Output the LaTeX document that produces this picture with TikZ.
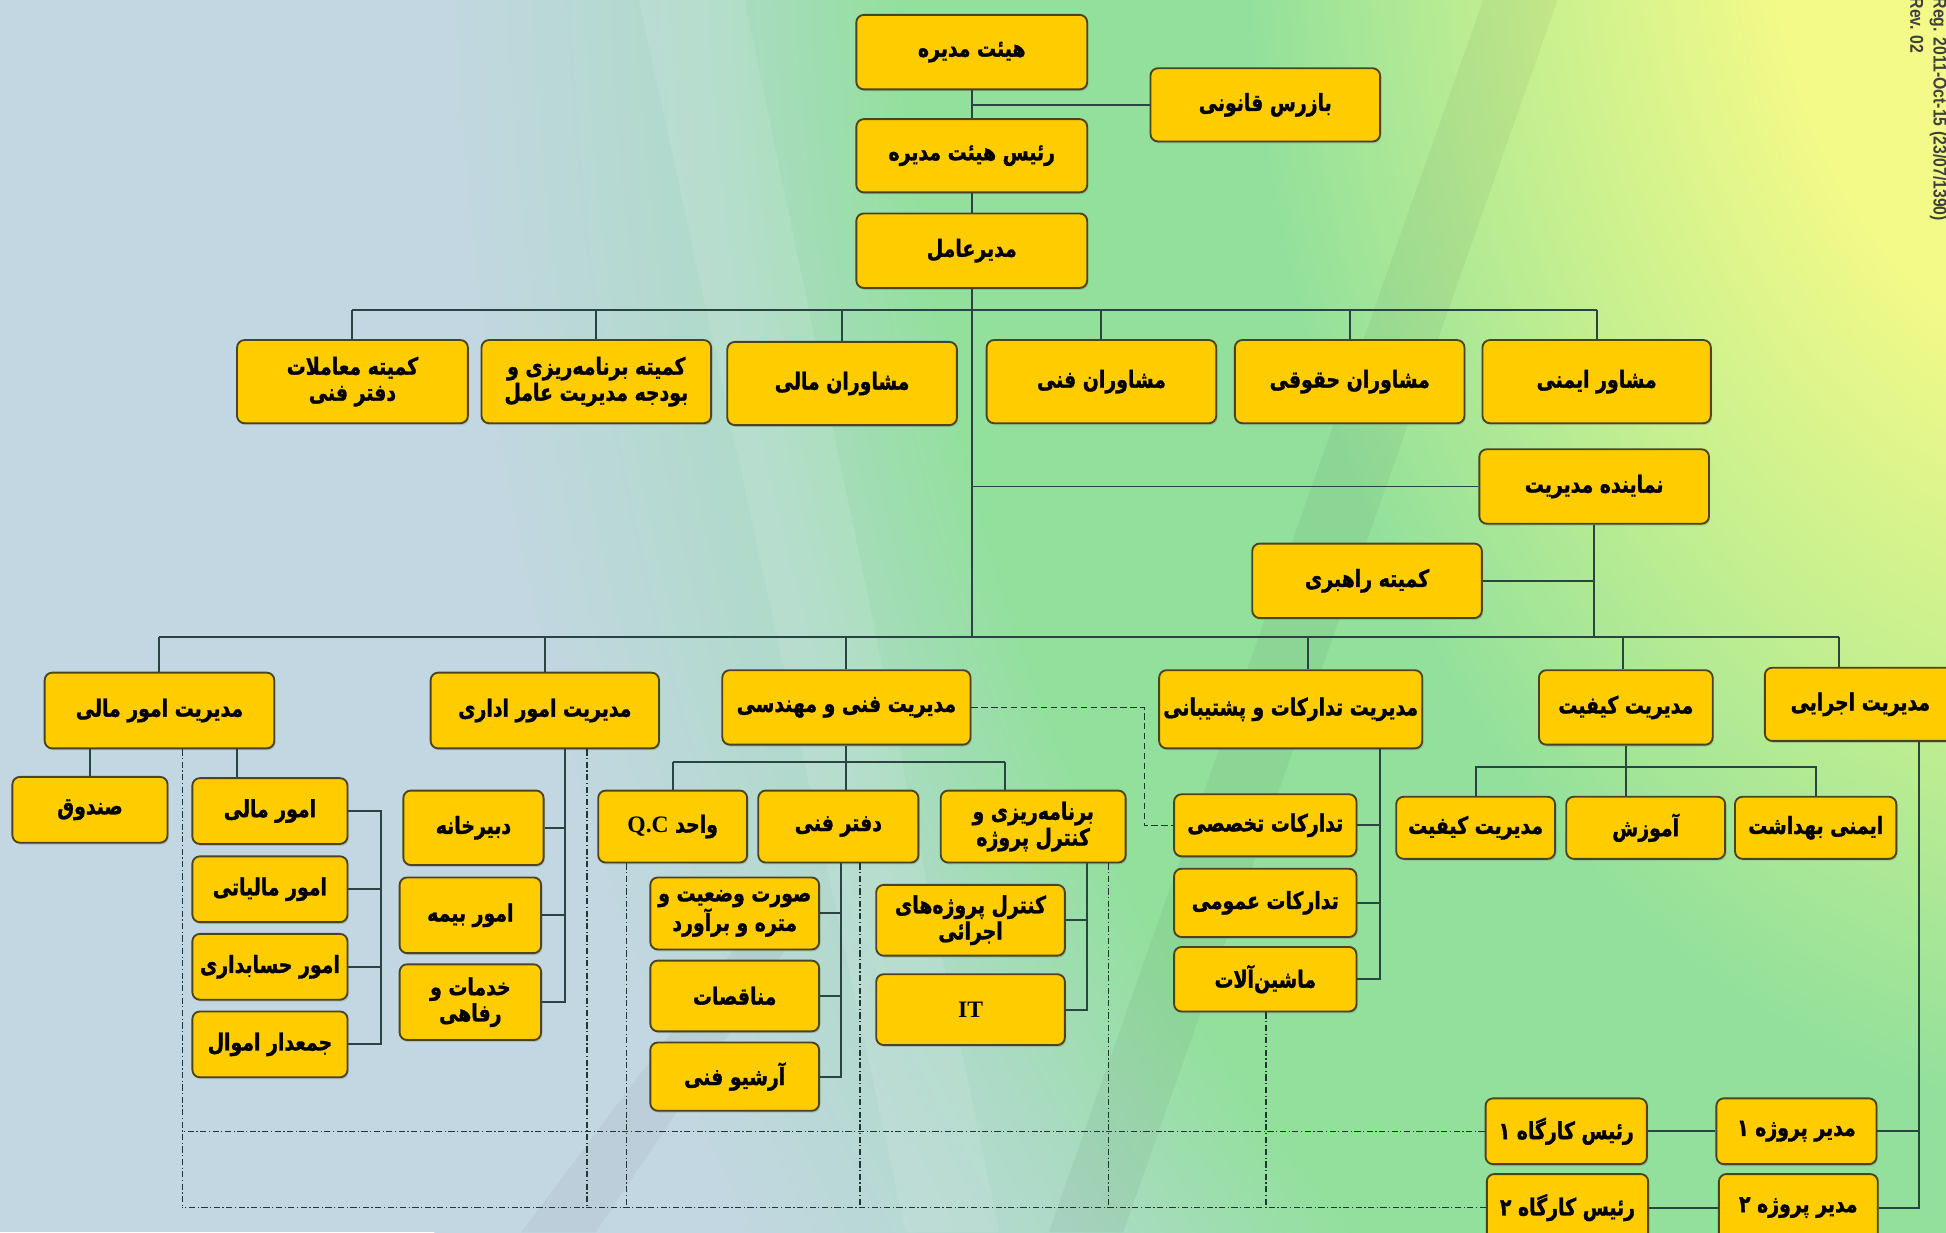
\documentclass[tikz,border=0pt]{standalone}
\usepackage{fontspec}
\usetikzlibrary{shadows,calc}
\TeXXeTstate=1
\newfontfamily\fafont{DejaVu Sans}[Script=Arabic, FakeStretch=0.8, BoldFeatures={FakeBold=1.3}]
\newfontfamily\latfont{Liberation Serif}
\newfontfamily\regfont{Liberation Sans}[FakeStretch=0.85]
\newcommand\fa[1]{\beginR#1\endR}
\definecolor{boxfill}{HTML}{FFCC00}
\definecolor{boxline}{HTML}{4A4520}
\definecolor{wire}{HTML}{2A4442}
\definecolor{bgA}{HTML}{C3D7E2}
\definecolor{bgB}{HTML}{AEDAC8}
\definecolor{bgC}{HTML}{92E09C}
\definecolor{bgD}{HTML}{C4EF90}
\definecolor{bgE}{HTML}{F4FA88}
\pgfdeclareradialshading{bgrad}{\pgfpoint{0bp}{0bp}}{color(0bp)=(bgE); color(5bp)=(bgE); color(9bp)=(bgD); color(13bp)=(bgC); color(18bp)=(bgC); color(21bp)=(bgB); color(25bp)=(bgA); color(50bp)=(bgA)}
\tikzset{
  box/.style={draw=boxline, line width=1.5pt, fill=boxfill, rounded corners=6pt,
    align=center, inner sep=2pt, text=black,
    font=\fafont\bfseries\fontsize{19}{21}\selectfont,
    drop shadow={opacity=0.35, shadow xshift=1pt, shadow yshift=-1.5pt}},
  wire/.style={draw=wire, line width=1.6pt},
  dd/.style={draw=wire!80!black, line width=1pt, dash pattern=on 5pt off 2pt on 1pt off 2pt},
  dsh/.style={draw=wire!80!black, line width=1.1pt, dash pattern=on 5pt off 3pt},
}
\newcommand\bx[6]{\node[box, minimum width=#4pt, minimum height=#5pt] (#1) at (#2,#3) {#6};}
\begin{document}
\begin{tikzpicture}[x=1pt,y=-1pt]
\useasboundingbox (0,0) rectangle (1568,993);
\begin{scope}
  \clip (0,0) rectangle (1568,993);
  \fill[bgA] (0,0) rectangle (1568,993);
  \shade[shading=bgrad] (350,-2029) rectangle (3050,1829);
  \fill[white, opacity=0.10] (515,0) -- (600,0) -- (805,993) -- (730,993) -- cycle;
  \fill[black, opacity=0.045] (1195,0) -- (1255,0) -- (905,993) -- (845,993) -- cycle;
  \fill[black, opacity=0.04] (420,993) -- (480,993) -- (650,740) -- (610,740) -- cycle;
\end{scope}

% top
\bx{hm}{783}{42}{186}{60}{\fa{هیئت مدیره}}
\bx{bq}{1019.5}{84.5}{185}{59}{\fa{بازرس قانونی}}
\bx{rh}{783}{125.5}{186}{59}{\fa{رئیس هیئت مدیره}}
\bx{ma}{783}{202}{186}{60}{\fa{مدیرعامل}}
% row 2
\bx{k1}{284}{307.5}{186}{67}{\fa{کمیته معاملات}\\\fa{دفتر فنی}}
\bx{k2}{480.5}{307.5}{185}{67}{\fa{کمیته برنامه‌ریزی و}\\\fa{بودجه مدیریت عامل}}
\bx{mm}{678.5}{309}{185}{67}{\fa{مشاوران مالی}}
\bx{mf}{887.5}{307.5}{185}{67}{\fa{مشاوران فنی}}
\bx{mh}{1087.5}{307.5}{185}{67}{\fa{مشاوران حقوقی}}
\bx{me}{1286.5}{307.5}{184}{67}{\fa{مشاور ایمنی}}
\bx{nm}{1284.5}{392}{185}{60}{\fa{نماینده مدیریت}}
\bx{kr}{1101.5}{468}{185}{60}{\fa{کمیته راهبری}}
% departments
\bx{d1}{128.5}{572.5}{185}{61}{\fa{مدیریت امور مالی}}
\bx{d2}{439}{572.5}{184}{61}{\fa{مدیریت امور اداری}}
\bx{d3}{682}{570}{200}{60}{\fa{مدیریت فنی و مهندسی}}
\bx{d4}{1040}{571.5}{212}{63}{\fa{مدیریت تدارکات و پشتیبانی}}
\bx{d5}{1310}{570}{140}{60}{\fa{مدیریت کیفیت}}
\bx{d6}{1499}{567.5}{154}{59}{\fa{مدیریت اجرایی}}
% finance
\bx{sq}{72.5}{652.5}{125}{53}{\fa{صندوق}}
\bx{a1}{217.5}{653.5}{125}{53}{\fa{امور مالی}}
\bx{a2}{217.5}{716.5}{125}{53}{\fa{امور مالیاتی}}
\bx{a3}{217.5}{779}{125}{53}{\fa{امور حسابداری}}
\bx{a4}{217.5}{841.5}{125}{53}{\fa{جمعدار اموال}}
% admin
\bx{b1}{381.5}{667}{113}{60}{\fa{دبیرخانه}}
\bx{b2}{379}{737.5}{114}{61}{\fa{امور بیمه}}
\bx{b3}{379}{807.5}{114}{61}{\fa{خدمات و}\\\fa{رفاهی}}
% technical
\bx{qc}{542}{666}{120}{58}{\fa{واحد \beginL{\latfont Q.C}\endL}}
\bx{df}{675.5}{666}{129}{58}{\fa{دفتر فنی}}
\bx{bp}{832.5}{666}{149}{58}{\fa{برنامه‌ریزی و}\\\fa{کنترل پروژه}}
\bx{c1}{592}{736}{136}{58}{\fa{صورت وضعیت و}\\\fa{متره و برآورد}}
\bx{c2}{592}{802.5}{136}{57}{\fa{مناقصات}}
\bx{c3}{592}{867.5}{136}{55}{\fa{آرشیو فنی}}
\bx{e1}{782}{741.5}{152}{57}{\fa{کنترل پروژه‌های}\\\fa{اجرائی}}
\bx{e2}{782}{813.5}{152}{57}{{\latfont IT}}
% procurement
\bx{t1}{1019.5}{665}{147}{50}{\fa{تدارکات تخصصی}}
\bx{t2}{1019.5}{727.5}{147}{55}{\fa{تدارکات عمومی}}
\bx{t3}{1019.5}{789}{147}{52}{\fa{ماشین‌آلات}}
% quality
\bx{q1}{1189}{667}{128}{50}{\fa{مدیریت کیفیت}}
\bx{q2}{1326}{667}{128}{50}{\fa{آموزش}}
\bx{q3}{1463}{667}{130}{50}{\fa{ایمنی بهداشت}}
% projects
\bx{p1}{1447.5}{911.5}{129}{53}{\fa{مدیر پروژه ۱}}
\bx{p2}{1449}{973}{128}{54}{\fa{مدیر پروژه ۲}}
\bx{r1}{1262}{911.5}{130}{53}{\fa{رئیس کارگاه ۱}}
\bx{r2}{1263}{973}{130}{54}{\fa{رئیس کارگاه ۲}}

% rotated registration text
\node[rotate=-90, anchor=north west, inner sep=0pt, text=black!75,
  font=\regfont\bfseries\fontsize{15}{16}\selectfont] (reg) at (1569,-2) {Reg. 2011-Oct-15 (23/07/1390)};
\node[rotate=-90, anchor=north west, inner sep=0pt, text=black!75,
  font=\regfont\bfseries\fontsize{15}{16}\selectfont] (rev) at (1550,-2) {Rev. 02};

% coordinates
\coordinate (trunkend) at (783,513);
\coordinate (bus1L) at (284,250);
\coordinate (bus1R) at (1286.5,250);
\coordinate (bus2L) at (128.5,513);
\coordinate (bus2R) at (1482,513);
\coordinate (d4top) at (1054,513);
\coordinate (d5top) at (1308,513);
\coordinate (a1top) at (191,603);
\coordinate (brA) at (307,653.5);
\coordinate (brB) at (455,603);
\coordinate (qcTop) at (542,614);
\coordinate (bpTop) at (810,614);
\coordinate (brD) at (678,695);
\coordinate (brE) at (876,695);
\coordinate (dk) at (922,570);
\coordinate (brF) at (1112,603);
\coordinate (qL) at (1189,618);
\coordinate (qR) at (1463,618);
\coordinate (exv) at (1546,597);
\coordinate (vA) at (147,0);
\coordinate (vB) at (473,0);
\coordinate (vC) at (505,0);
\coordinate (vD) at (693,0);
\coordinate (vE) at (893,0);
\coordinate (vF) at (1020,0);

% solid connectors
\draw[wire] (hm.south) -- (rh.north);
\draw[wire] (bq.west) -- (bq.west -| hm.south);
\draw[wire] (rh.south) -- (ma.north);
\draw[wire] (ma.south) -- (trunkend);
\draw[wire] (bus1L) -- (bus1R);
\draw[wire] (bus1L) -- (k1.north);
\draw[wire] (bus1R) -- (me.north);
\draw[wire] (k2.north) -- (k2.north |- bus1L);
\draw[wire] (mm.north) -- (mm.north |- bus1L);
\draw[wire] (mf.north) -- (mf.north |- bus1L);
\draw[wire] (mh.north) -- (mh.north |- bus1L);
\draw[wire] (nm.west) -- (nm.west -| ma.south);
\draw[wire] (nm.south) -- (nm.south |- trunkend);
\draw[wire] (kr.east) -- (kr.east -| nm.south);

\draw[wire] (bus2L) -- (bus2R);
\draw[wire] (bus2L) -- (d1.north);
\draw[wire] (bus2R) -- (bus2R |- d6.north);
\draw[wire] (d2.north) -- (d2.north |- bus2L);
\draw[wire] (d3.north) -- (d3.north |- bus2L);
\draw[wire] (d4top) -- (d4top |- d4.north);
\draw[wire] (d5top) -- (d5top |- d5.north);

\draw[wire] (d1.south -| sq.north) -- (sq.north);
\draw[wire] (a1top) -- (a1top |- a1.north);
\draw[wire] (a1.east) -- (brA) -- (brA |- a4.east) -- (a4.east);
\draw[wire] (a2.east) -- (a2.east -| brA);
\draw[wire] (a3.east) -- (a3.east -| brA);

\draw[wire] (brB) -- (brB |- b3.east) -- (b3.east);
\draw[wire] (b1.east) -- (b1.east -| brB);
\draw[wire] (b2.east) -- (b2.east -| brB);

\draw[wire] (d3.south) -- (d3.south |- df.north);
\draw[wire] (qcTop) -- (bpTop);
\draw[wire] (qcTop) -- (qc.north);
\draw[wire] (bpTop) -- (bpTop |- bp.north);
\draw[wire] (brD) -- (brD |- c3.east) -- (c3.east);
\draw[wire] (c1.east) -- (c1.east -| brD);
\draw[wire] (c2.east) -- (c2.east -| brD);
\draw[wire] (brE) -- (brE |- e2.east) -- (e2.east);
\draw[wire] (e1.east) -- (e1.east -| brE);

\draw[wire] (brF) -- (brF |- t3.east) -- (t3.east);
\draw[wire] (t1.east) -- (t1.east -| brF);
\draw[wire] (t2.east) -- (t2.east -| brF);

\draw[wire] (d5.south) -- (d5.south |- q2.north);
\draw[wire] (q1.north) |- (qR) -- (q3.north);

\draw[wire] (exv) -- (exv |- p2.east) -- (p2.east);
\draw[wire] (p1.east) -- (p1.east -| exv);
\draw[wire] (r1.east) -- (p1.west);
\draw[wire] (r2.east) -- (p2.west);

% dashed / dash-dot
\draw[dsh] (d3.east) -- (dk) |- (t1.west);
\draw[dd] (r1.west) -- (r1.west -| vA);
\draw[dd] (r2.west) -- (r2.west -| vA);
\draw[dd] (d1.south -| vA) -- (r2.west -| vA);
\draw[dd] (d2.south -| vB) -- (r2.west -| vB);
\draw[dd] (qc.south -| vC) -- (r2.west -| vC);
\draw[dd] (df.south -| vD) -- (r2.west -| vD);
\draw[dd] (bp.south -| vE) -- (r2.west -| vE);
\draw[dd] (t3.south -| vF) -- (r2.west -| vF);
\end{tikzpicture}
\end{document}
